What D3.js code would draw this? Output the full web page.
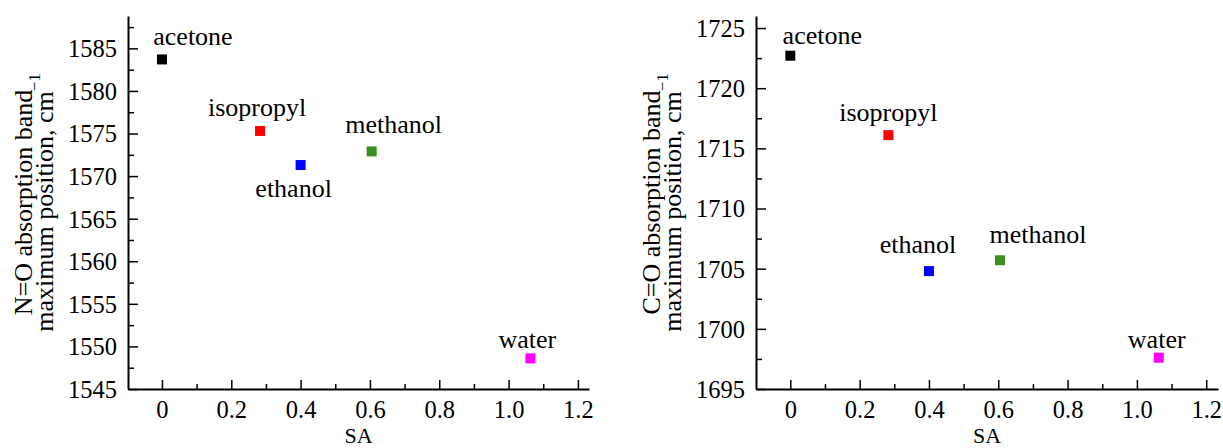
<!DOCTYPE html>
<html>
<head>
<meta charset="utf-8">
<script src="https://cdn.jsdelivr.net/npm/d3@7"></script>
<style>
  body { margin: 0; background: #fff; }
  svg { display: block; font-family: "Liberation Serif", "Times New Roman", serif; }
  svg text { font-family: "Liberation Serif", "Times New Roman", serif; }
</style>
</head>
<body>
<svg id="chart" width="1223" height="448"></svg>
<script>
// solvents and their SA values
const solvents = ["acetone", "isopropyl", "ethanol", "methanol", "water"];
const saValues = [0, 0.283, 0.40, 0.605, 1.063];
const noBand = [1583.7, 1575.3, 1571.3, 1572.9, 1548.6];
const coBand = [1722.7, 1716.1, 1704.8, 1705.7, 1697.6];
const pointColors = ["#000000", "#ff0000", "#0000ff", "#3a8f1e", "#ff00ff"];

const xTicks = [0, 0.2, 0.4, 0.6, 0.8, 1.0, 1.2];
const xTickLabels = ["0", "0.2", "0.4", "0.6", "0.8", "1.0", "1.2"];
const noTicks = [1545, 1550, 1555, 1560, 1565, 1570, 1575, 1580, 1585];
const coTicks = [1695, 1700, 1705, 1710, 1715, 1720, 1725];

const svg = d3.select("#chart");

// one panel = one scatter
function drawPanel(opt) {
    const x = d3.scaleLinear().domain(opt.xDomain).range([opt.left, opt.right]);
    const y = d3.scaleLinear().domain(opt.yDomain).range([389, 16]);
    const g = svg.append("g");

    // minor ticks halfway between the majors
    const xMinor = xTicks.slice(0, -1).map(t => t + 0.1);
    const yStep = opt.yTicks[1] - opt.yTicks[0];
    const yMinor = opt.yTicks.map(t => t + yStep / 2).filter(t => t < opt.yDomain[1]);

    const xAxis = g.append("g")
        .attr("transform", `translate(0,${y.range()[0]})`)
        .call(d3.axisBottom(x).tickValues(xTicks).tickSize(-9).tickSizeOuter(0)
            .tickFormat((d, i) => xTickLabels[i]));
    xAxis.selectAll("text").attr("y", 29).attr("dy", 0);
    g.append("g")
        .attr("transform", `translate(0,${y.range()[0]})`)
        .call(d3.axisBottom(x).tickValues(xMinor).tickSize(-5).tickSizeOuter(0).tickFormat(""))
        .select(".domain").remove();

    const yAxis = g.append("g")
        .attr("transform", `translate(${opt.left},0)`)
        .call(d3.axisLeft(y).tickValues(opt.yTicks).tickSize(-10).tickSizeOuter(0)
            .tickFormat(d3.format("d")));
    yAxis.selectAll("text").attr("x", -11).attr("dy", "0.34em");
    g.append("g")
        .attr("transform", `translate(${opt.left},0)`)
        .call(d3.axisLeft(y).tickValues(yMinor).tickSize(-6).tickSizeOuter(0).tickFormat(""))
        .select(".domain").remove();

    [xAxis, yAxis].forEach(a => a.attr("font-family", null).attr("font-size", null));
    g.selectAll(".domain").attr("stroke", "#000").attr("stroke-width", 2);
    g.selectAll(".tick line").attr("stroke", "#000").attr("stroke-width", 1.5);
    g.selectAll(".tick text")
        .style("font-family", "'Liberation Serif', serif")
        .style("font-size", "24.5px")
        .attr("fill", "#000");

    // axis titles
    g.append("text")
        .attr("x", (opt.left + opt.right) / 2)
        .attr("y", 443)
        .attr("text-anchor", "middle")
        .attr("font-size", 22)
        .text("SA");

    const cy = (16 + 389) / 2;
    g.append("text")
        .attr("transform", `translate(${opt.left - 96},${cy}) rotate(-90)`)
        .attr("text-anchor", "middle")
        .attr("font-size", 26)
        .text(opt.yTitle);
    const t2 = g.append("text")
        .attr("transform", `translate(${opt.left - 75},${cy}) rotate(-90)`)
        .attr("text-anchor", "middle")
        .attr("font-size", 26);
    t2.append("tspan").text("maximum position, cm");
    t2.append("tspan").attr("dy", -13).attr("font-size", 17).text("\u22121");

    // points
    g.selectAll("rect.pt")
        .data(solvents)
        .join("rect")
        .attr("class", "pt")
        .attr("x", (d, i) => x(saValues[i]) - 5)
        .attr("y", (d, i) => y(opt.values[i]) - 5)
        .attr("width", 10)
        .attr("height", 10)
        .attr("fill", (d, i) => pointColors[i]);

    // point labels
    g.selectAll("text.lbl")
        .data(solvents)
        .join("text")
        .attr("class", "lbl")
        .attr("x", (d, i) => x(saValues[i]) + opt.labelDx[i])
        .attr("y", (d, i) => y(opt.values[i]) + opt.labelDy[i])
        .attr("text-anchor", "middle")
        .attr("font-size", 26)
        .text(d => d);
}

drawPanel({
    left: 128, right: 589,
    xDomain: [-0.098, 1.232],
    yDomain: [1545, 1588.8],
    yTicks: noTicks,
    values: noBand,
    yTitle: "N=O absorption band",
    labelDx: [31, -3, -7, 22, -3],
    labelDy: [-14, -15, 32, -18, -10]
});

drawPanel({
    left: 756, right: 1218,
    xDomain: [-0.099, 1.234],
    yDomain: [1695, 1726],
    yTicks: coTicks,
    values: coBand,
    yTitle: "C=O absorption band",
    labelDx: [32, 0, -11, 38, -2],
    labelDy: [-12, -14, -18, -17, -10]
});
</script>
</body>
</html>
